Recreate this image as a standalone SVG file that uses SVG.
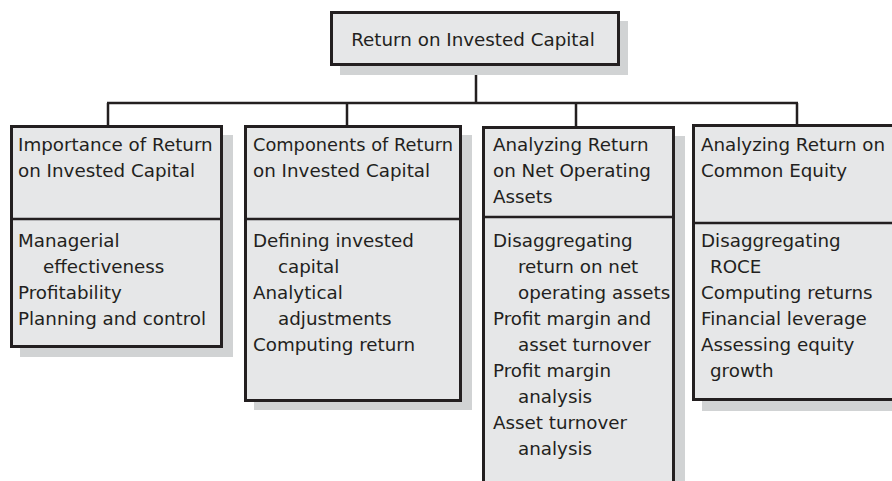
<svg xmlns="http://www.w3.org/2000/svg" width="892" height="481" viewBox="0 0 892 481">
<style>
.shadow{fill:#d1d3d4;stroke:none}
.box{fill:#e6e7e8;stroke:#231f20;stroke-width:3}
.div{stroke:#231f20;stroke-width:2.5;fill:none}
.conn{stroke:#231f20;stroke-width:2.5;fill:none}
text{font-family:"DejaVu Sans","Liberation Sans",sans-serif;font-size:18.3px;fill:#231f20}
</style>
<rect width="892" height="481" fill="#ffffff"/>
<g id="connectors">
<path class="conn" d="M476,66 V103 M107,103 H798 M108,103 V125 M347,103 V125 M576,103 V126 M797,103 V124"/>
</g>
<g id="root">
<rect class="shadow" x="340" y="21" width="288" height="54"/>
<rect class="box" x="331.5" y="12.5" width="287" height="52"/>
<text x="473" y="46" text-anchor="middle">Return on Invested Capital</text>
</g>
<g id="importance">
<rect class="shadow" x="20" y="135" width="213" height="222"/>
<rect class="box" x="11.5" y="126.5" width="210" height="220"/>
<line class="div" x1="11.5" y1="219" x2="221.5" y2="219"/>
<text x="18" y="151">Importance of Return</text>
<text x="18" y="177">on Invested Capital</text>
<text x="18" y="247">Managerial</text>
<text x="43" y="273">effectiveness</text>
<text x="18" y="299">Profitability</text>
<text x="18" y="325">Planning and control</text>
</g>
<g id="components">
<rect class="shadow" x="254" y="135" width="218" height="275"/>
<rect class="box" x="245.5" y="126.5" width="215" height="274"/>
<line class="div" x1="245.5" y1="219" x2="460.5" y2="219"/>
<text x="253" y="151" textLength="200" lengthAdjust="spacingAndGlyphs">Components of Return</text>
<text x="253" y="177">on Invested Capital</text>
<text x="253" y="247">Defining invested</text>
<text x="278" y="273">capital</text>
<text x="253" y="299">Analytical</text>
<text x="278" y="325">adjustments</text>
<text x="253" y="351">Computing return</text>
</g>
<g id="rnoa">
<rect class="shadow" x="492" y="136" width="193" height="400"/>
<rect class="box" x="483.5" y="127.5" width="190" height="400"/>
<line class="div" x1="483.5" y1="217" x2="673.5" y2="217"/>
<text x="493" y="151">Analyzing Return</text>
<text x="493" y="177">on Net Operating</text>
<text x="493" y="203">Assets</text>
<text x="493" y="247">Disaggregating</text>
<text x="518" y="273">return on net</text>
<text x="518" y="299">operating assets</text>
<text x="493" y="325">Profit margin and</text>
<text x="518" y="351">asset turnover</text>
<text x="493" y="377">Profit margin</text>
<text x="518" y="403">analysis</text>
<text x="493" y="429">Asset turnover</text>
<text x="518" y="455">analysis</text>
</g>
<g id="roce">
<rect class="shadow" x="702" y="134" width="213" height="277"/>
<rect class="box" x="693.5" y="125.5" width="210" height="274"/>
<line class="div" x1="693.5" y1="223" x2="903.5" y2="223"/>
<text x="701" y="151">Analyzing Return on</text>
<text x="701" y="177">Common Equity</text>
<text x="701" y="247">Disaggregating</text>
<text x="710" y="273">ROCE</text>
<text x="701" y="299">Computing returns</text>
<text x="701" y="325">Financial leverage</text>
<text x="701" y="351">Assessing equity</text>
<text x="710" y="377">growth</text>
</g>
</svg>
